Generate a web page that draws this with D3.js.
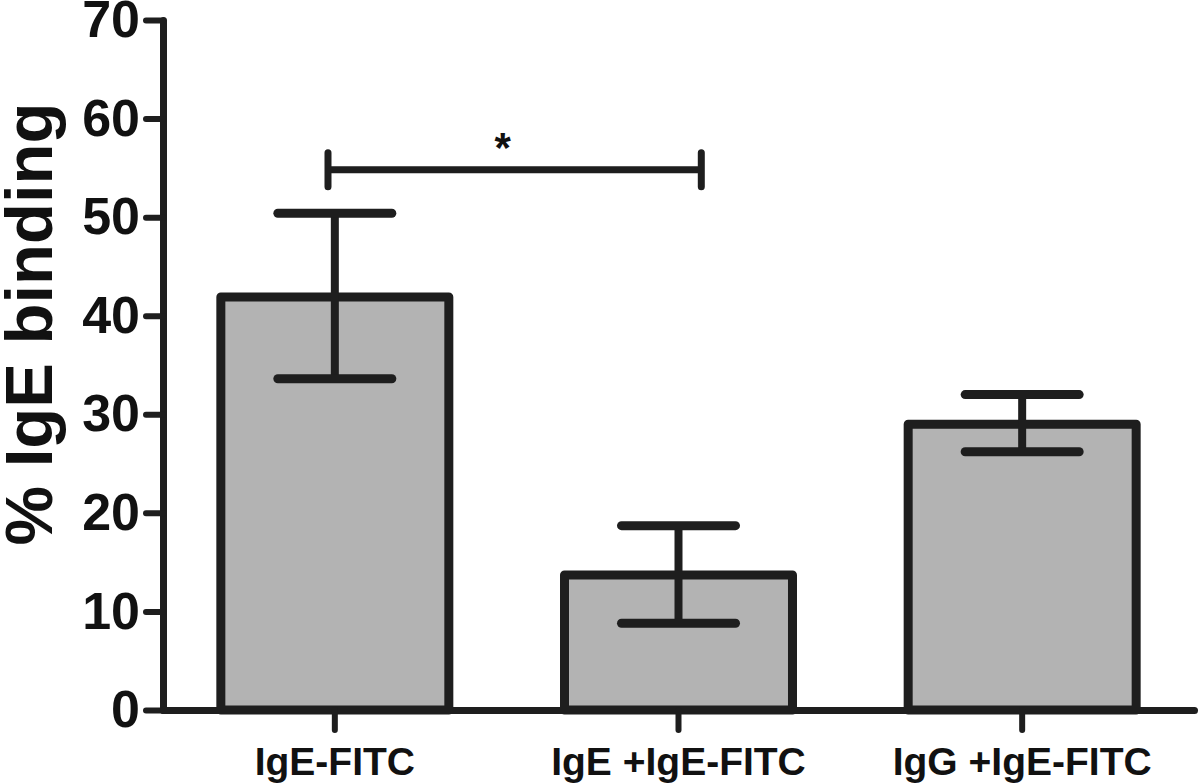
<!DOCTYPE html>
<html>
<head>
<meta charset="utf-8">
<script src="https://cdn.jsdelivr.net/npm/d3@7"></script>
<style>
body { margin: 0; background: #fff; }
svg text { font-family: "Liberation Sans", Arial, Helvetica, sans-serif; font-weight: bold; fill: #111; }
</style>
</head>
<body>
<script>
var width = 1200, height = 783;

// data
var groups = ["IgE-FITC", "IgE +IgE-FITC", "IgG +IgE-FITC"];
var means = [41.9, 13.7, 29.0];
var errLow = [33.6, 8.8, 26.2];
var errHigh = [50.4, 18.7, 32.0];
var yTicks = [0, 10, 20, 30, 40, 50, 60, 70];
var sig = [{a: 0, b: 1, y: 54.8, label: "*"}];

var ink = "#1e1e1e";

var svg = d3.select("body")
	.append("svg")
	.attr("width", width)
	.attr("height", height);

var x = d3.scaleBand()
	.domain(groups)
	.range([163, 1194])
	.paddingInner(0.3366)
	.paddingOuter(0.1683);

var y = d3.scaleLinear()
	.domain([0, 70])
	.range([710, 20]);

var data = groups.map(function(g, i){
	return {name: g, mean: means[i], lo: errLow[i], hi: errHigh[i]};
});

// bars
svg.append("g").selectAll("rect")
	.data(data)
	.enter().append("rect")
	.attr("x", function(d){ return x(d.name); })
	.attr("y", function(d){ return y(d.mean); })
	.attr("width", x.bandwidth())
	.attr("height", function(d){ return y(0) - y(d.mean); })
	.attr("fill", "#b3b3b3")
	.attr("stroke", ink)
	.attr("stroke-width", 9)
	.attr("stroke-linejoin", "round");

// error bars
var err = svg.append("g").selectAll("g")
	.data(data)
	.enter().append("g")
	.attr("stroke", ink)
	.attr("stroke-linecap", "round");

err.append("line")
	.attr("x1", function(d){ return x(d.name) + x.bandwidth()/2; })
	.attr("x2", function(d){ return x(d.name) + x.bandwidth()/2; })
	.attr("y1", function(d){ return y(d.lo); })
	.attr("y2", function(d){ return y(d.hi); })
	.attr("stroke-width", 8)
	.attr("stroke-linecap", "butt");

["lo", "hi"].forEach(function(k){
	err.append("line")
		.attr("x1", function(d){ return x(d.name) + x.bandwidth()*0.25; })
		.attr("x2", function(d){ return x(d.name) + x.bandwidth()*0.75; })
		.attr("y1", function(d){ return y(d[k]); })
		.attr("y2", function(d){ return y(d[k]); })
		.attr("stroke-width", 9);
});

// axes
var yAxis = svg.append("g")
	.attr("transform", "translate(163,0)")
	.call(d3.axisLeft(y).tickValues(yTicks).tickSize(17).tickSizeOuter(0).tickPadding(6));

var xAxis = svg.append("g")
	.attr("transform", "translate(0," + y(0) + ")")
	.call(d3.axisBottom(x).tickSize(20).tickSizeOuter(0));

[yAxis, xAxis].forEach(function(ax){
	ax.select(".domain").attr("stroke", ink).attr("stroke-width", 7).attr("stroke-linecap", "round").attr("stroke-linejoin", "round");
	ax.selectAll(".tick line").attr("stroke", ink).attr("stroke-width", 6).attr("stroke-linecap", "round");
});

yAxis.selectAll(".tick text")
	.attr("font-size", 52)
	.attr("fill", "#111");

xAxis.selectAll(".tick text")
	.attr("font-size", 39)
	.attr("y", 65)
	.attr("dy", null)
	.attr("fill", "#111");

// y axis title
svg.append("text")
	.attr("transform", "translate(52,324) rotate(-90)")
	.attr("text-anchor", "middle")
	.attr("font-size", 67)
	.text("% IgE binding");

// significance bracket
var br = svg.append("g").selectAll("g")
	.data(sig)
	.enter().append("g");

function bx1(d){ return x(groups[d.a]) + x.bandwidth()*0.47; }
function bx2(d){ return x(groups[d.b]) + x.bandwidth()*0.6; }

br.append("path")
	.attr("d", function(d){
		var yy = y(d.y);
		return "M" + bx1(d) + "," + (yy-17) + "V" + (yy+17) +
			"M" + bx1(d) + "," + yy + "H" + bx2(d) +
			"M" + bx2(d) + "," + (yy-17) + "V" + (yy+17);
	})
	.attr("fill", "none")
	.attr("stroke", ink)
	.attr("stroke-width", 7)
	.attr("stroke-linecap", "round");

br.append("text")
	.attr("x", function(d){ return (bx1(d) + bx2(d))/2 - 12; })
	.attr("y", function(d){ return y(d.y) - 8; })
	.attr("text-anchor", "middle")
	.attr("font-size", 42)
	.text(function(d){ return d.label; });
</script>
</body>
</html>
